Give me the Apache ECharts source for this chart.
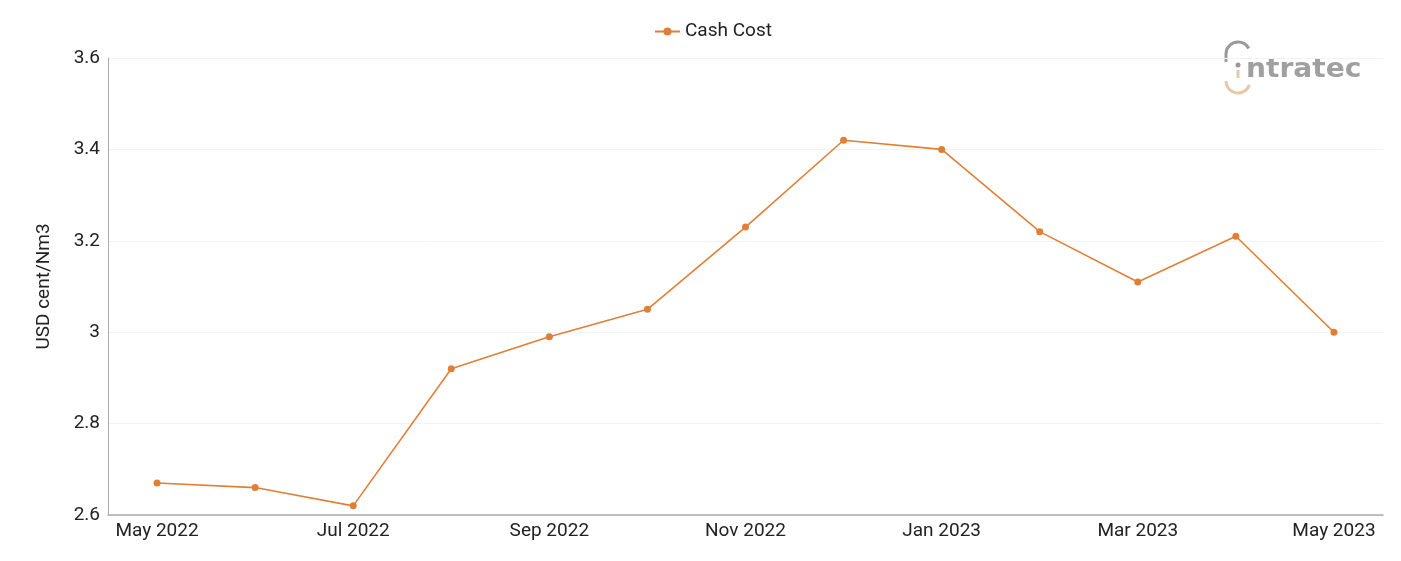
<!DOCTYPE html>
<html><head><meta charset="utf-8">
<script src="https://cdn.jsdelivr.net/npm/echarts@6/dist/echarts.min.js"></script>
<style>html,body{margin:0;padding:0;background:#fff}#c{width:1401px;height:561px}</style>
</head><body><div id="c"></div>
<script>
const categories = ['May 2022','Jun 2022','Jul 2022','Aug 2022','Sep 2022','Oct 2022','Nov 2022','Dec 2022','Jan 2023','Feb 2023','Mar 2023','Apr 2023','May 2023'];
const cashCost = [2.67,2.66,2.62,2.92,2.99,3.05,3.23,3.42,3.40,3.22,3.11,3.21,3.00];
const seriesName = 'Cash Cost';
const yAxisName = 'USD cent/Nm3';
const orange = '#e07f35';
const chart = echarts.init(document.getElementById('c'));
chart.setOption({
  animation:false,
  textStyle:{fontFamily:'Roboto'},
  legend:{top:17,left:649,itemWidth:25,itemHeight:10,itemGap:4,textStyle:{fontSize:19,color:'#222',fontFamily:'Roboto'},data:[seriesName]},
  grid:{left:108,right:18,top:58,bottom:46},
  xAxis:{type:'category',data:categories,boundaryGap:true,
    axisLine:{lineStyle:{color:'#aaa',width:1.5}},axisTick:{show:false},
    axisLabel:{interval:1,fontSize:19,color:'#222',margin:7,fontFamily:'Roboto'}},
  yAxis:{type:'value',min:2.6,max:3.6,interval:0.2,name:yAxisName,nameLocation:'middle',nameGap:54,
    nameTextStyle:{fontSize:19,color:'#222',fontFamily:'Roboto'},
    axisLine:{show:true,lineStyle:{color:'#aaa',width:1}},axisTick:{show:false},
    axisLabel:{fontSize:19,color:'#222',margin:8,formatter:v=>String(+v.toFixed(1))}},
  graphic:[
    {type:'text',x:1246,y:56,scaleX:1.04,style:{text:'ntratec',font:'bold 27px "DejaVu Sans"',fill:'#a0a0a0'}},
    {type:'circle',shape:{cx:1238,cy:65,r:2.5},style:{fill:'#9a9a9a'}},
    {type:'rect',shape:{x:1236.5,y:70,width:3,height:8},style:{fill:'#e6c8a8'}},
    {type:'line',shape:{x1:1226,y1:62,x2:1226,y2:54},style:{stroke:'#9a9a9a',lineWidth:3}},
    {type:'arc',shape:{cx:1238,cy:54,r:12,startAngle:Math.PI,endAngle:1.85*Math.PI},style:{stroke:'#9a9a9a',lineWidth:3,fill:null}},
    {type:'arc',shape:{cx:1238,cy:81,r:12,startAngle:0.1*Math.PI,endAngle:Math.PI},style:{stroke:'#e6c8a8',lineWidth:3,fill:null}}
  ],
  series:[{name:seriesName,type:'line',data:cashCost,symbol:'circle',symbolSize:7,
    itemStyle:{color:orange},lineStyle:{color:orange,width:1.6}}]
});
chart.setOption({yAxis:{splitLine:{lineStyle:{color:'#f3f3f3'}}}});
</script></body></html>
